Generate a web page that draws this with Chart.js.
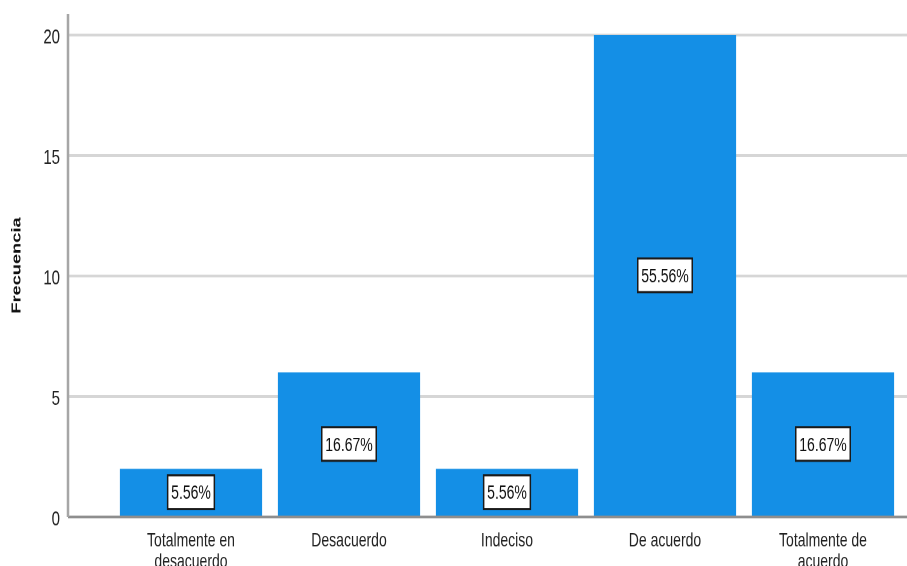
<!DOCTYPE html>
<html>
<head>
<meta charset="utf-8">
<script src="https://cdn.jsdelivr.net/npm/chart.js@4"></script>
<style>
  html, body { margin: 0; padding: 0; background: #fff; }
</style>
</head>
<body>
<!-- the reference is a vertically stretched export, so the canvas is drawn short and stretched -->
<canvas id="chart" width="907" height="404" style="display:block;width:907px;height:566px"></canvas>
<script>
// Data
const categories = [
    ['Totalmente en', 'desacuerdo'],
    'Desacuerdo',
    'Indeciso',
    'De acuerdo',
    ['Totalmente de', 'acuerdo']
];
const frequencies = [2, 6, 2, 20, 6];
const percentLabels = ['5.56%', '16.67%', '5.56%', '55.56%', '16.67%'];
const yTicks = [0, 5, 10, 15, 20];
const yMax = 20.87;

const BAR_COLOR = '#148fe6';
const GRID_COLOR = '#d6d6d6';
const ZERO_COLOR = '#8e8e8e';
const AXIS_COLOR = '#a6a6a6';
const AXIS_GAP = 44; // y axis line sits left of the first category

Chart.defaults.font.family = 'Arial, "Liberation Sans", sans-serif';
Chart.defaults.color = '#222';

const decorPlugin = {
    id: 'spssDecor',
    beforeDatasetsDraw(chart) {
        const { ctx, chartArea, scales: { y } } = chart;
        ctx.save();
        ctx.lineWidth = 2;
        // stretch grid lines out to the right edge
        yTicks.forEach(v => {
            const py = y.getPixelForValue(v);
            ctx.strokeStyle = v === 0 ? ZERO_COLOR : GRID_COLOR;
            ctx.beginPath();
            ctx.moveTo(chartArea.right, py);
            ctx.lineTo(chart.width, py);
            ctx.stroke();
        });
        // vertical axis line
        const ax = chartArea.left - AXIS_GAP;
        ctx.strokeStyle = AXIS_COLOR;
        ctx.lineWidth = 2.5;
        ctx.beginPath();
        ctx.moveTo(ax, chartArea.top);
        ctx.lineTo(ax, y.getPixelForValue(0));
        ctx.stroke();
        ctx.restore();
    },
    afterDatasetsDraw(chart) {
        const { ctx } = chart;
        const meta = chart.getDatasetMeta(0);
        ctx.save();
        ctx.font = '14px Arial, "Liberation Sans", sans-serif';
        ctx.textAlign = 'center';
        ctx.textBaseline = 'middle';
        meta.data.forEach((bar, i) => {
            const text = percentLabels[i];
            const cx = bar.x;
            const cy = (bar.y + bar.base) / 2;
            const w = ctx.measureText(text).width + 7;
            const h = 24;
            ctx.fillStyle = '#fff';
            ctx.fillRect(cx - w / 2, cy - h / 2, w, h);
            ctx.strokeStyle = '#1a1a1a';
            ctx.lineWidth = 1.5;
            ctx.strokeRect(cx - w / 2, cy - h / 2, w, h);
            ctx.fillStyle = '#111';
            ctx.fillText(text, cx, cy + 1);
        });
        ctx.restore();
    }
};

const chart = new Chart(document.getElementById('chart'), {
    type: 'bar',
    data: {
        labels: categories,
        datasets: [{
            label: 'Frecuencia',
            data: frequencies,
            backgroundColor: BAR_COLOR,
            borderWidth: 0,
            barPercentage: 0.9,
            categoryPercentage: 1.0
        }]
    },
    options: {
        responsive: false,
        devicePixelRatio: 2,
        animation: false,
        layout: {
            padding: { top: 10, right: 5, left: 0, bottom: 0 }
        },
        plugins: {
            legend: { display: false },
            tooltip: { enabled: false }
        },
        scales: {
            x: {
                grid: { display: false, drawTicks: false },
                border: { display: false },
                ticks: {
                    color: '#222',
                    padding: 10,
                    maxRotation: 0,
                    autoSkip: false,
                    font: { size: 14, lineHeight: 1.05 }
                },
                afterFit: (scale) => { scale.height = 35; }
            },
            y: {
                min: 0,
                max: yMax,
                border: { display: false },
                grid: {
                    lineWidth: 2,
                    tickLength: AXIS_GAP,
                    color: (c) => c.tick && c.tick.value === 0 ? ZERO_COLOR : GRID_COLOR
                },
                ticks: {
                    color: '#222',
                    padding: 8,
                    labelOffset: 2,
                    font: { size: 15 }
                },
                afterBuildTicks: (scale) => {
                    scale.ticks = yTicks.map(v => ({ value: v }));
                },
                title: {
                    display: true,
                    text: 'Frecuencia',
                    color: '#111',
                    font: { size: 13, weight: 'bold' },
                    padding: { top: 9, bottom: 0 }
                },
                afterFit: (scale) => {
                    scale.width = 112;
                    scale.paddingTop = 0;
                    scale.paddingBottom = 0;
                }
            }
        }
    },
    plugins: [decorPlugin]
});
</script>
</body>
</html>
